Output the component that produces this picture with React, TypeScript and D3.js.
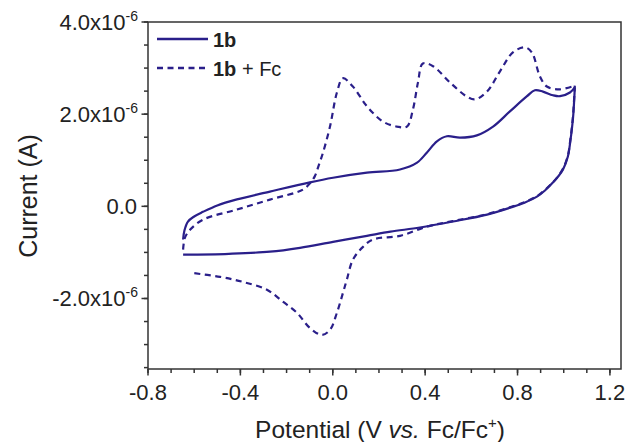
import React from "react";
import * as d3 from "d3";

// Data: [potential (V vs Fc/Fc+), current (µA)]
const solidForward: [number, number][] = [
  [-0.648, -0.72], [-0.642, -0.52], [-0.627, -0.33], [-0.6, -0.22], [-0.562, -0.12],
  [-0.5, 0.02], [-0.415, 0.15], [-0.272, 0.32], [-0.099, 0.52], [0.001, 0.62],
  [0.148, 0.73], [0.291, 0.8], [0.365, 0.95], [0.408, 1.17], [0.451, 1.41],
  [0.494, 1.52], [0.551, 1.49], [0.624, 1.54], [0.694, 1.73], [0.767, 2.06],
  [0.841, 2.39], [0.875, 2.52], [0.91, 2.49], [0.953, 2.41], [0.984, 2.39],
  [1.027, 2.47], [1.048, 2.58],
];
const solidReverse: [number, number][] = [
  [1.048, 2.58], [1.04, 1.9], [1.027, 1.35], [1.018, 1.08], [0.997, 0.8],
  [0.975, 0.64], [0.953, 0.515], [0.92, 0.35], [0.884, 0.21], [0.83, 0.08],
  [0.78, -0.01], [0.668, -0.18], [0.52, -0.33], [0.377, -0.46], [0.25, -0.55],
  [0.148, -0.64], [0.001, -0.77], [-0.142, -0.9], [-0.272, -0.985], [-0.45, -1.03],
  [-0.648, -1.05],
];
const dashedForward: [number, number][] = [
  [-0.648, -0.94], [-0.64, -0.68], [-0.618, -0.51], [-0.562, -0.29], [-0.415, -0.07],
  [-0.272, 0.146], [-0.129, 0.363], [-0.099, 0.5], [-0.078, 0.65], [-0.06, 0.9],
  [-0.042, 1.17], [-0.012, 1.73], [0.018, 2.47], [0.044, 2.78], [0.087, 2.6],
  [0.148, 2.17], [0.217, 1.84], [0.278, 1.73], [0.321, 1.73], [0.347, 2.1],
  [0.369, 2.69], [0.39, 3.1], [0.434, 3.04], [0.507, 2.69], [0.581, 2.38],
  [0.616, 2.32], [0.668, 2.49], [0.724, 2.93], [0.78, 3.34], [0.832, 3.45],
  [0.862, 3.34], [0.897, 2.82], [0.927, 2.6], [0.984, 2.54], [1.048, 2.62],
];
const dashedReverse: [number, number][] = [
  [1.048, 2.62], [1.04, 1.95], [1.027, 1.38], [1.018, 1.1], [0.997, 0.82],
  [0.975, 0.65], [0.953, 0.52], [0.92, 0.36], [0.884, 0.22], [0.83, 0.09],
  [0.78, 0.0], [0.668, -0.17], [0.52, -0.32], [0.408, -0.44], [0.291, -0.64],
  [0.174, -0.72], [0.131, -0.88], [0.087, -1.16], [0.061, -1.59], [0.044, -1.88],
  [0.018, -2.31], [-0.012, -2.68], [-0.047, -2.79], [-0.099, -2.64], [-0.155, -2.31],
  [-0.216, -2.07], [-0.285, -1.81], [-0.389, -1.64], [-0.488, -1.53], [-0.618, -1.44],
];

const xMajorTicks = [-0.8, -0.4, 0.0, 0.4, 0.8, 1.2];
const xTickLabels = ["-0.8", "-0.4", "0.0", "0.4", "0.8", "1.2"];
const yMajorTicks = [-2, 0, 2, 4];
const yTickMantissa = ["-2.0", "0.0", "2.0", "4.0"];
const legendLabels = ["1b", "1b + Fc"];

const W = 631;
const H = 442;
const left = 148, right = 621, top = 22, bottom = 369;
const COLOR = "#2a1f8a";
const AXIS = "#333";
const FONT = "'Liberation Sans', Arial, sans-serif";

export default function App() {
  const x = d3.scaleLinear().domain([-0.8, 1.248]).range([left, right]);
  const y = d3.scaleLinear().domain([-3.53, 4]).range([bottom, top]);
  const line = d3
    .line<[number, number]>()
    .x((d) => x(d[0]))
    .y((d) => y(d[1]))
    .curve(d3.curveCatmullRom.alpha(0.5));

  const xMinor = d3.range(-8, 13).map((i) => i / 10);
  const yMinor = d3.range(-7, 9).map((i) => i / 2);

  return (
    <svg
      width={W}
      height={H}
      style={{ position: "absolute", left: 0, top: 0, background: "#fff" }}
      fontFamily={FONT}
    >
      <rect x={0} y={0} width={W} height={H} fill="#fff" />
      {/* curves */}
      <g fill="none" stroke={COLOR} strokeWidth={2.2} strokeLinejoin="round">
        <path d={line(dashedForward) || ""} strokeDasharray="6,4.5" />
        <path d={line(dashedReverse) || ""} strokeDasharray="6,4.5" />
        <path d={line(solidForward) || ""} />
        <path d={line(solidReverse) || ""} />
      </g>
      {/* frame */}
      <rect x={left} y={top} width={right - left} height={bottom - top} fill="none" stroke={AXIS} strokeWidth={1.5} />
      {/* ticks */}
      <g stroke={AXIS} strokeWidth={1.5}>
        {xMinor.map((v, i) => (
          <line key={"xm" + i} x1={x(v)} x2={x(v)} y1={bottom} y2={bottom + 4} />
        ))}
        {xMajorTicks.map((v, i) => (
          <line key={"xM" + i} x1={x(v)} x2={x(v)} y1={bottom} y2={bottom + 6.5} />
        ))}
        {yMinor.map((v, i) => (
          <line key={"ym" + i} x1={left} x2={left - 4} y1={y(v)} y2={y(v)} />
        ))}
        {yMajorTicks.map((v, i) => (
          <line key={"yM" + i} x1={left} x2={left - 6.5} y1={y(v)} y2={y(v)} />
        ))}
      </g>
      {/* x tick labels */}
      <g fill="#222" fontSize={22} textAnchor="middle">
        {xMajorTicks.map((v, i) => (
          <text key={"xl" + i} x={x(v)} y={400}>
            {xTickLabels[i]}
          </text>
        ))}
      </g>
      {/* y tick labels */}
      <g fill="#222" fontSize={22} textAnchor="end">
        {yMajorTicks.map((v, i) => (
          <text key={"yl" + i} x={v === 0 ? 137 : 138} y={y(v) + 8}>
            {v === 0 ? (
              yTickMantissa[i]
            ) : (
              <>
                {yTickMantissa[i] + "x10"}
                <tspan fontSize={14} dy={-9}>-6</tspan>
              </>
            )}
          </text>
        ))}
      </g>
      {/* axis titles */}
      <text x={380} y={438} fontSize={24.5} fill="#222" textAnchor="middle">
        Potential (V <tspan fontStyle="italic">vs.</tspan> Fc/Fc
        <tspan fontSize={15} dy={-10}>+</tspan>
        <tspan dy={10}>)</tspan>
      </text>
      <text
        transform={`translate(37,196) rotate(-90)`}
        fontSize={25}
        fill="#222"
        textAnchor="middle"
      >
        Current (A)
      </text>
      {/* legend */}
      <g>
        <line x1={157} x2={208} y1={39} y2={39} stroke={COLOR} strokeWidth={2.3} />
        <line x1={157} x2={208} y1={68} y2={68} stroke={COLOR} strokeWidth={2.3} strokeDasharray="6,4.5" />
        <text x={213} y={46.5} fontSize={20} fill="#222" fontWeight="bold">
          {legendLabels[0]}
        </text>
        <text x={213} y={75.5} fontSize={20} fill="#222">
          <tspan fontWeight="bold">1b</tspan>
          {legendLabels[1].slice(2)}
        </text>
      </g>
    </svg>
  );
}
